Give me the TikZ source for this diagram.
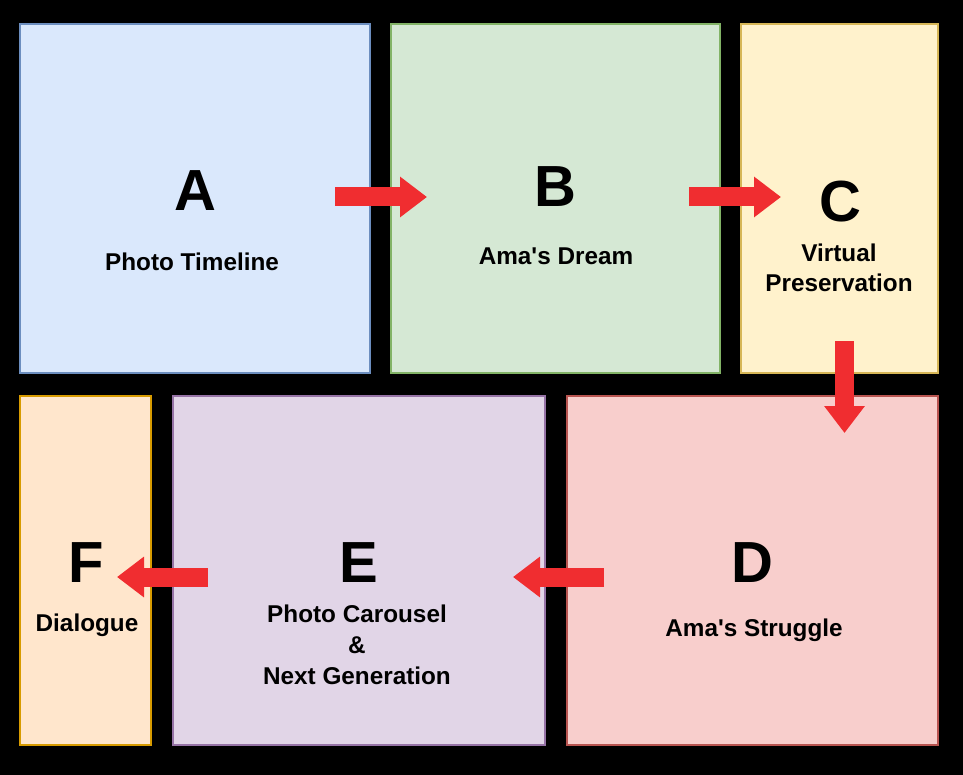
\documentclass[tikz,border=0pt]{standalone}
\usepackage{fontspec}
\setmainfont{Liberation Sans}
\usetikzlibrary{arrows.meta}
\definecolor{arrowred}{RGB}{240,45,48}
\definecolor{fA}{HTML}{DAE8FC}\definecolor{dA}{HTML}{6C8EBF}
\definecolor{fB}{HTML}{D5E8D4}\definecolor{dB}{HTML}{82B366}
\definecolor{fC}{HTML}{FFF2CC}\definecolor{dC}{HTML}{D6B656}
\definecolor{fD}{HTML}{F8CECC}\definecolor{dD}{HTML}{B85450}
\definecolor{fE}{HTML}{E1D5E7}\definecolor{dE}{HTML}{9673A6}
\definecolor{fF}{HTML}{FFE6CC}\definecolor{dF}{HTML}{D79B00}
\tikzset{
  panel/.style={line width=1.3pt},
  bigletter/.style={font=\bfseries\fontsize{58}{58}\selectfont, inner sep=0pt},
  caption/.style={font=\bfseries\fontsize{24.3}{31}\selectfont, align=center, inner sep=0pt},
  bigarrow/.style={draw=arrowred, line width=19pt, -{Triangle[width=39pt,length=27pt]}},
}
\begin{document}
\begin{tikzpicture}[x=1pt,y=-1pt]
\fill[black] (0,0) rectangle (963,775);
\useasboundingbox (0,0) rectangle (963,775);
% panels
\draw[panel, fill=fA, draw=dA] (20,24) rectangle (370,373);
\draw[panel, fill=fB, draw=dB] (391,24) rectangle (720,373);
\draw[panel, fill=fC, draw=dC] (741,24) rectangle (938,373);
\draw[panel, fill=fD, draw=dD] (567,396) rectangle (938,745);
\draw[panel, fill=fE, draw=dE] (173,396) rectangle (545,745);
\draw[panel, fill=fF, draw=dF] (20,396) rectangle (151,745);
% letters
\node[bigletter] (A) at (195,191) {A};
\node[bigletter] (B) at (555,187) {B};
\node[bigletter] (C) at (840,202) {C};
\node[bigletter] (D) at (752,563) {D};
\node[bigletter] (E) at (359,563) {E};
\node[bigletter] (F) at (86,563) {F};
% captions
\node[caption] (tA) at (192,262) {Photo Timeline};
\node[caption] (tB) at (556,256) {Ama\textquotesingle s Dream};
\node[caption, font=\bfseries\fontsize{24.3}{30}\selectfont] (tC) at (839,268) {Virtual\\Preservation};
\node[caption] (tD) at (754,630) {Ama\textquotesingle s Struggle};
\node[caption] (tE) at (357,645) {Photo Carousel\\\&\\Next Generation};
\node[caption] (tF) at (87,625) {Dialogue};
% arrows
\coordinate (a1) at (335,197); \coordinate (a2) at (427,197);
\coordinate (b1) at (689,197); \coordinate (b2) at (781,197);
\coordinate (c1) at (844.5,341); \coordinate (c2) at (844.5,433);
\coordinate (d1) at (604,577); \coordinate (d2) at (513,577);
\coordinate (e1) at (208,577); \coordinate (e2) at (117,577);
\draw[bigarrow] (a1) -- (a2);
\draw[bigarrow] (b1) -- (b2);
\draw[bigarrow] (c1) -- (c2);
\draw[bigarrow] (d1) -- (d2);
\draw[bigarrow] (e1) -- (e2);
\end{tikzpicture}
\end{document}
